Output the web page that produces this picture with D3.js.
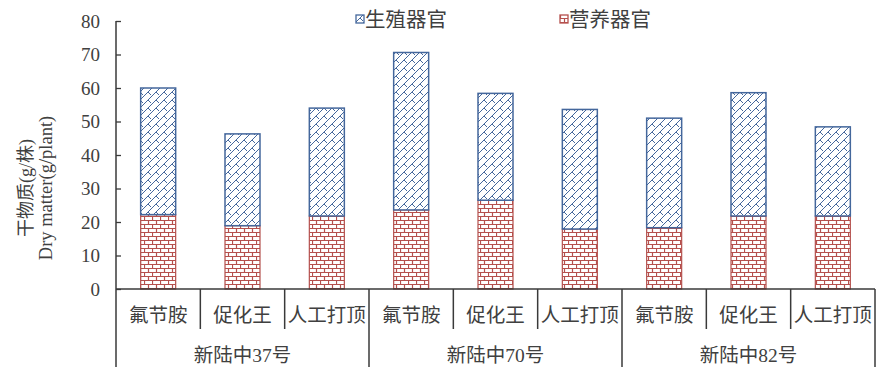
<!DOCTYPE html>
<html><head><meta charset="utf-8">
<script src="https://cdn.jsdelivr.net/npm/d3@7"></script>
<style>body{margin:0;background:#fff}</style>
</head><body><svg id="c" width="886" height="378"></svg>
<script>
const treatments = ["氟节胺","促化王","人工打顶","氟节胺","促化王","人工打顶","氟节胺","促化王","人工打顶"];
const varieties = ["新陆中37号","新陆中70号","新陆中82号"];
const vegetative = [22.2, 18.9, 21.8, 23.6, 26.5, 17.9, 18.3, 21.8, 21.8];
const reproductive = [37.8, 27.4, 32.2, 47.0, 31.9, 35.7, 32.7, 36.8, 26.6];
const yTicks = [0,10,20,30,40,50,60,70,80];
const seriesNames = ["生殖器官","营养器官"];

const svg = d3.select("#c");
const blue = "#44679c", red = "#b5504d", txt = "#404040", axisC = "#3a3a3a";
const fontNum = "'Liberation Serif','Times New Roman','Noto Sans CJK SC',serif";

const defs = svg.append("defs");
const pb = defs.append("pattern").attr("id","pBlue").attr("patternUnits","userSpaceOnUse").attr("width",8).attr("height",8);
pb.append("rect").attr("width",8).attr("height",8).attr("fill","#fff");
pb.append("path").attr("d","M-1,9 L9,-1 M-1,1 L1,-1 M7,9 L9,7 M4,4 L7,7 M0,0 L-1,-1")
  .attr("stroke",blue).attr("stroke-width",1).attr("fill","none");
const pr = defs.append("pattern").attr("id","pRed").attr("patternUnits","userSpaceOnUse").attr("width",8).attr("height",8);
pr.append("rect").attr("width",8).attr("height",8).attr("fill","#fff");
pr.append("path").attr("d","M0,0.5 H8 M0,4.5 H8 M0.5,0 V4.5 M4.5,4.5 V8")
  .attr("stroke",red).attr("stroke-width",1.2).attr("fill","none");

const x0 = 116, x1 = 875, yTop = 21, yBot = 289;
const x = d3.scaleBand().domain(d3.range(treatments.length)).range([x0, x1]).padding(0);
const y = d3.scaleLinear().domain([0,80]).range([yBot, yTop]);
const bw = x.bandwidth()*0.415;

const data = treatments.map((t,i)=>({i, veg: vegetative[i], rep: reproductive[i]}));
const g = svg.append("g");
g.selectAll("rect.veg").data(data).join("rect").attr("class","veg")
  .attr("x", d=>x(d.i)+x.bandwidth()/2-bw/2).attr("width", bw)
  .attr("y", d=>y(d.veg)).attr("height", d=>y(0)-y(d.veg))
  .attr("fill","url(#pRed)").attr("stroke",red).attr("stroke-width",1.2);
g.selectAll("rect.rep").data(data).join("rect").attr("class","rep")
  .attr("x", d=>x(d.i)+x.bandwidth()/2-bw/2).attr("width", bw)
  .attr("y", d=>y(d.veg+d.rep)).attr("height", d=>y(d.veg)-y(d.veg+d.rep))
  .attr("fill","url(#pBlue)").attr("stroke",blue).attr("stroke-width",1.5);

// y axis
const ya = svg.append("g").attr("transform",`translate(${x0},0)`)
  .call(d3.axisRight(y).tickValues(yTicks).tickSize(5).tickFormat(""));
ya.select(".domain").remove();
ya.selectAll("line").attr("stroke",axisC).attr("stroke-width",1.3);
svg.append("line").attr("x1",x0).attr("x2",x0).attr("y1",yTop).attr("y2",367).attr("stroke",axisC).attr("stroke-width",1.5);
svg.selectAll("text.yt").data(yTicks).join("text").attr("class","yt")
  .attr("x",100).attr("y",d=>y(d)).attr("dy","0.35em").attr("text-anchor","end")
  .attr("font-family",fontNum).attr("font-size",19).attr("fill",txt).text(d=>d);

// x axis
svg.append("line").attr("x1",x0).attr("x2",x1).attr("y1",yBot).attr("y2",yBot).attr("stroke",axisC).attr("stroke-width",1.5);
d3.range(1, treatments.length+1).forEach(i=>{
  const xx = i===treatments.length ? x1 : x(i);
  const long = i%3===0;
  svg.append("line").attr("x1",xx).attr("x2",xx).attr("y1",yBot).attr("y2",long?367:329)
    .attr("stroke",axisC).attr("stroke-width",1.5);
});
svg.selectAll("text.xt").data(treatments).join("text").attr("class","xt")
  .attr("x",(d,i)=>x(i)+x.bandwidth()/2).attr("y",322).attr("text-anchor","middle")
  .attr("font-family",fontNum).attr("font-size",19.5).attr("fill",txt).text(d=>d);
svg.selectAll("text.gt").data(varieties).join("text").attr("class","gt")
  .attr("x",(d,i)=>x(i*3)+x.bandwidth()*1.5).attr("y",362).attr("text-anchor","middle")
  .attr("font-family",fontNum).attr("font-size",19.5).attr("fill",txt).text(d=>d);

// y title
const yt = svg.append("g").attr("transform","translate(0,188) rotate(-90)");
yt.append("text").attr("x",0).attr("y",32).attr("text-anchor","middle")
  .attr("font-family",fontNum).attr("font-size",18).attr("fill",txt).text("干物质(g/株)");
yt.append("text").attr("x",0).attr("y",52).attr("text-anchor","middle")
  .attr("font-family",fontNum).attr("font-size",18.5).attr("fill",txt).text("Dry matter(g/plant)");

// legend
const leg = [{n:seriesNames[0], f:"url(#pBlue)", s:blue, x:356},{n:seriesNames[1], f:"url(#pRed)", s:red, x:560}];
const lg = svg.selectAll("g.lg").data(leg).join("g").attr("class","lg").attr("transform",d=>`translate(${d.x},14)`);
lg.append("rect").attr("width",8).attr("height",8).attr("y",1).attr("fill",d=>d.f).attr("stroke",d=>d.s).attr("stroke-width",1.3);
lg.append("text").attr("x",9).attr("y",13).attr("font-family",fontNum).attr("font-size",20.5).attr("fill",txt).text(d=>d.n);
</script></body></html>
